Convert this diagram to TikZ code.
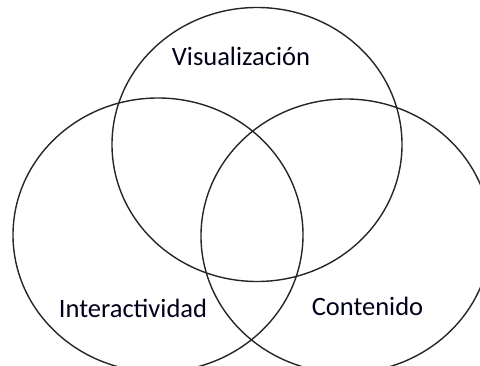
\documentclass[tikz,border=0pt]{standalone}
\usepackage{fontspec}
\setmainfont{Carlito}
\usetikzlibrary{shapes.geometric}
\begin{document}
\begin{tikzpicture}[x=1pt,y=-1pt,
  set/.style={draw=black!85, line width=1.4pt, ellipse, minimum width=290pt, minimum height=274pt, inner sep=0pt},
  lbl/.style={font=\fontsize{26.5}{30}\selectfont, text=black!90!blue, inner sep=0pt, anchor=base}]
\useasboundingbox (0,0) rectangle (480,366);
\clip (0,0) rectangle (480,366);
\node[set] (vis) at (257,144.5) {};
\node[set] (int) at (158,235) {};
\node[set] (con) at (346,236) {};
\node[lbl] (tvis) at (241,66) {Visualización};
\node[lbl] (tint) at (133,318) {Interactividad};
\node[lbl] (tcon) at (367.5,316) {Contenido};
\end{tikzpicture}
\end{document}
